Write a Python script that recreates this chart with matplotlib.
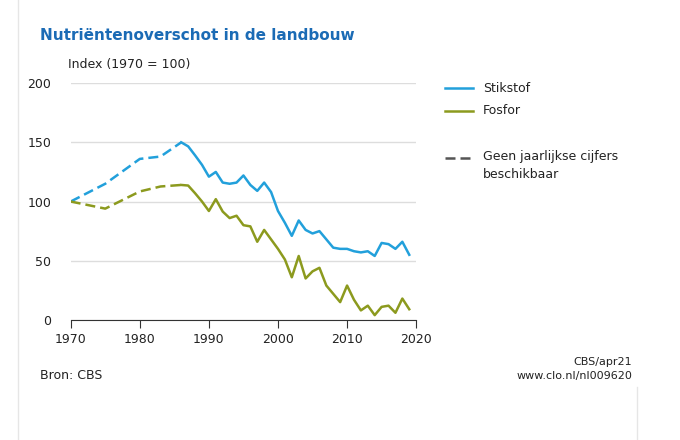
import matplotlib.pyplot as plt
from matplotlib.lines import Line2D

# geschatte waarden (index 1970 = 100)
jaren_gestreept = [1970, 1975, 1980, 1983, 1986]
stikstof_gestreept = [100, 115, 136, 138, 150]
fosfor_gestreept = [100, 94, 108.5, 112.7, 114]

jaren = list(range(1986, 2020))
stikstof = [150, 146.6, 139, 131, 121, 125, 116, 115, 116, 122, 114, 109, 116, 108,
            92, 82, 71, 84, 76, 73, 75, 68, 61, 60, 60, 58, 57, 58, 54, 65, 64, 60, 66, 55]
fosfor = [114, 113.5, 107, 100, 92, 102, 91.5, 86, 88, 80, 79, 66, 76, 68,
          60, 51, 36, 54, 35, 41, 44, 29, 22, 15, 29, 17, 8, 12, 4, 11, 12, 6, 18, 9]

blauw = "#22a0db"
groen = "#8c9a1e"

fig = plt.figure(figsize=(6.8, 4.4), dpi=100)
ax = fig.add_axes([0.104, 0.273, 0.508, 0.538])

ax.plot(jaren_gestreept, stikstof_gestreept, color=blauw, lw=1.8, ls=(0, (4, 2)))
ax.plot(jaren_gestreept, fosfor_gestreept, color=groen, lw=1.8, ls=(0, (4, 2)))
ax.plot(jaren, stikstof, color=blauw, lw=1.8)
ax.plot(jaren, fosfor, color=groen, lw=1.8)

ax.set_xlim(1970, 2020)
ax.set_ylim(0, 200)
ax.set_xticks(range(1970, 2021, 10))
ax.set_yticks(range(0, 201, 50))
ax.grid(axis="y", color="#dddddd", lw=1)
ax.set_axisbelow(True)
for s in ["top", "right", "left"]:
    ax.spines[s].set_visible(False)
ax.spines["bottom"].set_color("#333333")
ax.tick_params(axis="y", length=0, labelsize=9, pad=14, colors="#222222")
ax.tick_params(axis="x", length=6, color="#333333", labelsize=9, colors="#222222")

fig.text(0.059, 0.92, "Nutriëntenoverschot in de landbouw", color="#1b6bb5",
         fontsize=11, fontweight="bold", va="center")
fig.text(0.1, 0.845, "Index (1970 = 100)", fontsize=9, color="#222222")

# legenda handmatig
legenda = [(blauw, "-", "Stikstof", 88),
           (groen, "-", "Fosfor", 111),
           ("#555555", (0, (4, 2)), "Geen jaarlijkse cijfers\nbeschikbaar", 158)]
for kleur, stijl, tekst, ypix in legenda:
    y = 1 - ypix / 440
    fig.add_artist(Line2D([0.655, 0.695], [y, y], color=kleur, lw=1.8, ls=stijl))
    fig.text(0.71, y, tekst, fontsize=9, va="top" if "\n" in tekst else "center",
             color="#222222", linespacing=1.5,
             transform=fig.transFigure) if "\n" not in tekst else \
        fig.text(0.71, y + 0.018, tekst, fontsize=9, va="top", color="#222222",
                 linespacing=1.5)

fig.text(0.059, 0.138, "Bron: CBS", fontsize=9, color="#222222")
fig.text(0.93, 0.17, "CBS/apr21", fontsize=8, ha="right", color="#222222")
fig.text(0.93, 0.138, "www.clo.nl/nl009620", fontsize=8, ha="right", color="#222222")

fig.add_artist(Line2D([0.027, 0.027], [0, 1], color="#e6e6e6", lw=1))
fig.add_artist(Line2D([0.937, 0.937], [0, 0.12], color="#e6e6e6", lw=1))

fig.savefig("out.png", dpi=100)
